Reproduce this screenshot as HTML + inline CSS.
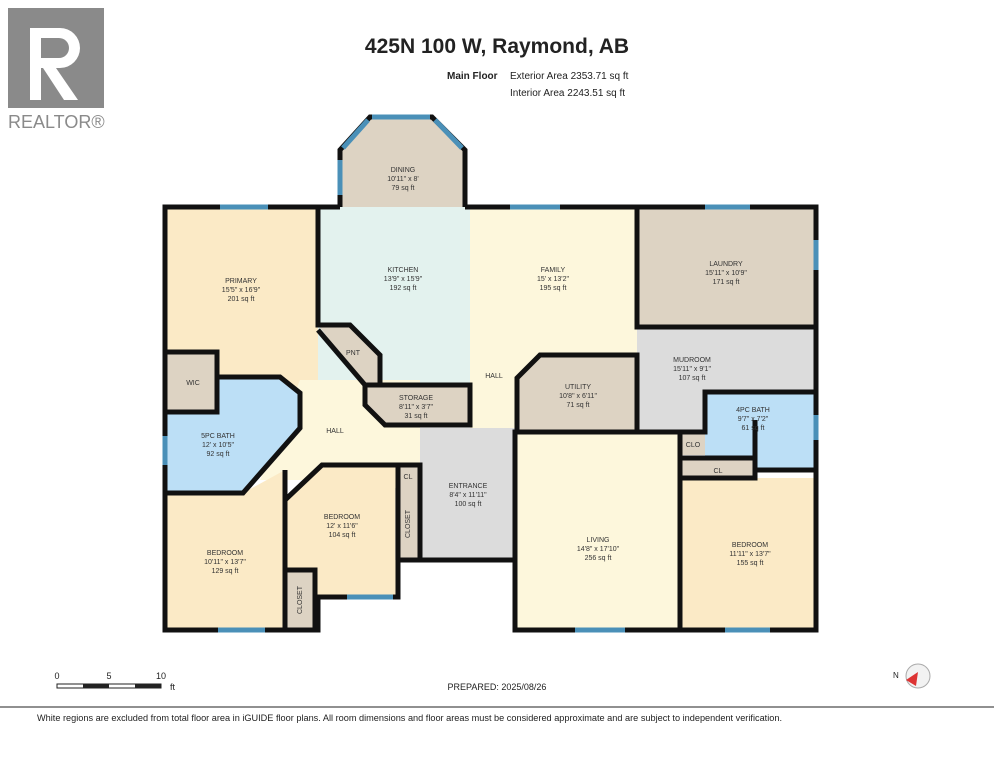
<!DOCTYPE html>
<html><head><meta charset="utf-8"><style>
body{margin:0;background:#fff;width:994px;height:768px;overflow:hidden;font-family:"Liberation Sans",sans-serif}
svg{position:absolute;left:0;top:0}
</style></head><body>
<svg width="994" height="768" viewBox="0 0 994 768" font-family="Liberation Sans, sans-serif">
<rect x="8" y="8" width="96" height="100" fill="#8a8a8a"/>
<path d="M30 28 h30 a20 20 0 0 1 0 40 h-4 l22 32 h-14 l-21 -32 h-2 v32 h-11z M41 38 v20 h18 a10 10 0 0 0 0 -20z" fill="#fff"/>
<text x="8" y="128" font-size="18" fill="#8a8a8a">REALTOR®</text>
<text x="497" y="53" font-size="21" font-weight="bold" text-anchor="middle" fill="#222">425N 100 W, Raymond, AB</text>
<text x="447" y="79" font-size="10" font-weight="bold" fill="#222">Main Floor</text>
<text x="510" y="79" font-size="10" fill="#222">Exterior Area 2353.71 sq ft</text>
<text x="510" y="96" font-size="10" fill="#222">Interior Area 2243.51 sq ft</text>

<polygon points="370,117 432,117 465,150 465,207 340,207 340,150" fill="#ddd3c3"/>
<rect x="165" y="207" width="153" height="180" fill="#fbeac6"/>
<rect x="318" y="207" width="152" height="220" fill="#e3f2ee"/>
<rect x="470" y="207" width="167" height="225" fill="#fdf7dc"/>
<rect x="637" y="207" width="179" height="120" fill="#ddd3c3"/>
<rect x="637" y="327" width="179" height="105" fill="#dcdcdc"/>
<polygon points="300,380 420,380 420,480 285,480 260,480" fill="#fdf7dc"/>
<rect x="300" y="420" width="120" height="60" fill="#fdf7dc"/>
<polygon points="318,325 350,325 380,355 380,385 365,385" fill="#ddd3c3"/>
<polygon points="365,385 470,385 470,425 385,425 365,405" fill="#ddd3c3"/>
<polygon points="540,355 637,355 637,432 517,432 517,378" fill="#ddd3c3"/>
<rect x="165" y="352" width="52" height="60" fill="#ddd3c3"/>
<polygon points="165,412 217,412 217,377 280,377 300,393 300,428 243,493 165,493" fill="#bcdff6"/>
<polygon points="165,493 243,493 285,470 285,630 165,630" fill="#fbeac6"/>
<rect x="285" y="570" width="30" height="60" fill="#ddd3c3"/>
<polygon points="285,500 322,465 398,465 398,597 315,597 315,570 285,570" fill="#fbeac6"/>
<rect x="398" y="465" width="22" height="23" fill="#ddd3c3"/>
<rect x="395" y="488" width="25" height="72" fill="#ddd3c3"/>
<rect x="420" y="428" width="95" height="132" fill="#dcdcdc"/>
<rect x="515" y="432" width="165" height="198" fill="#fdf7dc"/>
<rect x="705" y="392" width="111" height="78" fill="#bcdff6"/>
<rect x="680" y="432" width="25" height="23" fill="#ddd3c3"/>
<rect x="680" y="458" width="75" height="20" fill="#ddd3c3"/>
<rect x="680" y="478" width="136" height="152" fill="#fbeac6"/>

<g fill="none" stroke="#111" stroke-width="5" stroke-linejoin="miter">
<polyline points="340,207 165,207 165,630 318,630 318,597 398,597 398,560 470,560"/>
<polyline points="470,560 515,560 515,630 816,630 816,207 465,207"/>
<polyline points="340,207 340,150 370,117 432,117 465,150 465,207"/>
<polyline points="318,207 318,325 350,325 380,355 380,385"/>
<polyline points="318,330 365,385 365,405 385,425 470,425 470,385 365,385"/>
<polyline points="165,352 217,352 217,412 165,412"/>
<polyline points="217,377 280,377 300,393 300,428 243,493 165,493"/>
<polyline points="285,470 285,630"/>
<polyline points="285,570 315,570 315,630"/>
<polyline points="285,500 322,465 420,465 420,560"/>
<polyline points="398,465 398,597"/>
<polyline points="517,432 517,378 540,355 637,355 637,432 515,432 515,560"/>
<polyline points="637,207 637,327 816,327"/>
<polyline points="637,432 705,432 705,392 816,392"/>
<polyline points="680,432 680,630"/>
<polyline points="680,458 755,458 755,478 680,478"/>
<polyline points="755,478 755,470 816,470"/>
<polyline points="755,458 755,420"/>
</g>
<g stroke="#4a90b8" stroke-width="5">
<line x1="220" y1="207" x2="268" y2="207"/><line x1="372" y1="117" x2="430" y2="117"/>
<line x1="343" y1="148" x2="368" y2="120"/><line x1="435" y1="120" x2="462" y2="148"/>
<line x1="340" y1="160" x2="340" y2="195"/>
<line x1="510" y1="207" x2="560" y2="207"/><line x1="705" y1="207" x2="750" y2="207"/>
<line x1="816" y1="240" x2="816" y2="270"/><line x1="816" y1="415" x2="816" y2="440"/>
<line x1="575" y1="630" x2="625" y2="630"/><line x1="725" y1="630" x2="770" y2="630"/>
<line x1="218" y1="630" x2="265" y2="630"/><line x1="347" y1="597" x2="393" y2="597"/>
<line x1="165" y1="436" x2="165" y2="465"/>
</g>
<g font-size="7" fill="#333" text-anchor="middle">
<text x="403" y="172">DINING</text><text x="403" y="181">10'11" x 8'</text><text x="403" y="190">79 sq ft</text>
<text x="241" y="283">PRIMARY</text><text x="241" y="292">15'5" x 16'9"</text><text x="241" y="301">201 sq ft</text>
<text x="403" y="272">KITCHEN</text><text x="403" y="281">13'9" x 15'9"</text><text x="403" y="290">192 sq ft</text>
<text x="553" y="272">FAMILY</text><text x="553" y="281">15' x 13'2"</text><text x="553" y="290">195 sq ft</text>
<text x="726" y="266">LAUNDRY</text><text x="726" y="275">15'11" x 10'9"</text><text x="726" y="284">171 sq ft</text>
<text x="692" y="362">MUDROOM</text><text x="692" y="371">15'11" x 9'1"</text><text x="692" y="380">107 sq ft</text>
<text x="578" y="389">UTILITY</text><text x="578" y="398">10'8" x 6'11"</text><text x="578" y="407">71 sq ft</text>
<text x="416" y="400">STORAGE</text><text x="416" y="409">8'11" x 3'7"</text><text x="416" y="418">31 sq ft</text>
<text x="353" y="355">PNT</text><text x="193" y="385">WIC</text>
<text x="335" y="433">HALL</text><text x="494" y="378">HALL</text>
<text x="218" y="438">5PC BATH</text><text x="218" y="447">12' x 10'5"</text><text x="218" y="456">92 sq ft</text>
<text x="753" y="412">4PC BATH</text><text x="753" y="421">9'7" x 7'2"</text><text x="753" y="430">61 sq ft</text>
<text x="693" y="447">CLO</text><text x="718" y="473">CL</text><text x="408" y="479">CL</text>
<text x="468" y="488">ENTRANCE</text><text x="468" y="497">8'4" x 11'11"</text><text x="468" y="506">100 sq ft</text>
<text x="342" y="519">BEDROOM</text><text x="342" y="528">12' x 11'6"</text><text x="342" y="537">104 sq ft</text>
<text x="225" y="555">BEDROOM</text><text x="225" y="564">10'11" x 13'7"</text><text x="225" y="573">129 sq ft</text>
<text x="598" y="542">LIVING</text><text x="598" y="551">14'8" x 17'10"</text><text x="598" y="560">256 sq ft</text>
<text x="750" y="547">BEDROOM</text><text x="750" y="556">11'11" x 13'7"</text><text x="750" y="565">155 sq ft</text>
<text x="0" y="0" transform="translate(410,524) rotate(-90)">CLOSET</text>
<text x="0" y="0" transform="translate(302,600) rotate(-90)">CLOSET</text>
</g>
<g font-size="9" fill="#222">
<text x="57" y="679" text-anchor="middle">0</text><text x="109" y="679" text-anchor="middle">5</text><text x="161" y="679" text-anchor="middle">10</text><text x="170" y="690">ft</text>
</g>
<rect x="57" y="684" width="104" height="4" fill="#fff" stroke="#222" stroke-width="1"/>
<rect x="83" y="684" width="26" height="4" fill="#222"/><rect x="135" y="684" width="26" height="4" fill="#222"/>
<text x="497" y="690" font-size="9" fill="#222" text-anchor="middle">PREPARED: 2025/08/26</text>
<circle cx="918" cy="676" r="12" fill="#f2f2f2" stroke="#aaa"/>
<polygon points="906,680 918,672 916,686" fill="#d33"/>
<text x="893" y="678" font-size="8" fill="#222">N</text>
<line x1="0" y1="707" x2="994" y2="707" stroke="#222" stroke-width="1"/>
<text x="37" y="721" font-size="9" fill="#222" textLength="745" lengthAdjust="spacingAndGlyphs">White regions are excluded from total floor area in iGUIDE floor plans. All room dimensions and floor areas must be considered approximate and are subject to independent verification.</text>
</svg>
</body></html>
